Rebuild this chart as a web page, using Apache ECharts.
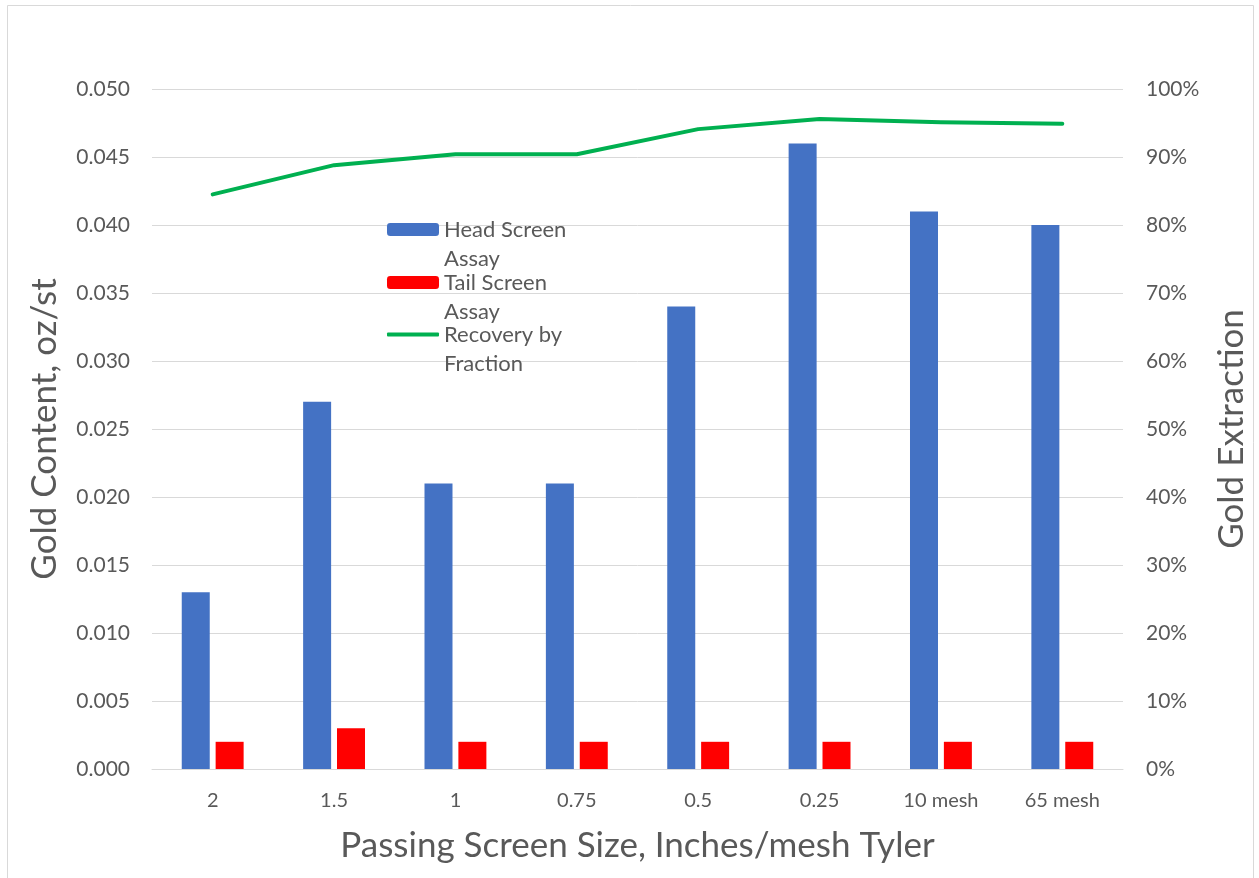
<!DOCTYPE html>
<html>
<head>
<meta charset="utf-8">
<style>
  html, body { margin: 0; padding: 0; background: #fff; }
  #chart { width: 1259px; height: 878px; }
</style>
<script src="https://cdn.jsdelivr.net/npm/echarts@6/dist/echarts.min.js"></script>
</head>
<body>
<div id="chart"></div>
<script>
// Screen fractions (passing size, inches or Tyler mesh)
const categories = ['2', '1.5', '1', '0.75', '0.5', '0.25', '10 mesh', '65 mesh'];
// Gold assays, oz/st
const headAssay = [0.013, 0.027, 0.021, 0.021, 0.034, 0.046, 0.041, 0.040];
const tailAssay = [0.002, 0.003, 0.002, 0.002, 0.002, 0.002, 0.002, 0.002];
// Recovery by fraction (share of 1)
const recovery = [0.845, 0.888, 0.904, 0.904, 0.941, 0.956, 0.951, 0.949];

const seriesNames = ['Head Screen Assay', 'Tail Screen Assay', 'Recovery by Fraction'];
const legendText = {
  'Head Screen Assay': '\nHead Screen\nAssay',
  'Tail Screen Assay': '\nTail Screen\nAssay',
  'Recovery by Fraction': '\nRecovery by\nFraction'
};

const FONT = 'Lato, "Open Sans", sans-serif';
const TEXT = '#595959';
const GRID = '#d9d9d9';
const GREEN = '#00B050';

const chart = echarts.init(document.getElementById('chart'), null, { renderer: 'canvas' });

// One legend block per series so each swatch sits on the first text line
function legendFor(name, top, extra) {
  return Object.assign({
    data: [name],
    orient: 'vertical',
    left: 387,
    top: top,
    itemWidth: 52,
    itemHeight: 13,
    itemGap: 0,
    padding: 0,
    selectedMode: false,
    formatter: n => legendText[n],
    textStyle: { color: TEXT, fontFamily: FONT, fontSize: 22, lineHeight: 29 }
  }, extra || {});
}

chart.setOption({
  animation: false,
  backgroundColor: '#fff',
  graphic: [{
    type: 'rect',
    silent: true,
    shape: { x: 7.5, y: 5.5, width: 1246, height: 900 },
    style: { fill: 'none', stroke: GRID, lineWidth: 1 }
  }],
  legend: [
    legendFor(seriesNames[0], 186),
    legendFor(seriesNames[1], 239),
    legendFor(seriesNames[2], 291, {
      data: [{ name: seriesNames[2], icon: 'roundRect' }],
      itemHeight: 4
    })
  ],
  grid: { left: 152, right: 136, top: 89, bottom: 109, containLabel: false },
  xAxis: {
    type: 'category',
    data: categories,
    axisLine: { lineStyle: { color: GRID, width: 1 } },
    axisTick: { show: false },
    axisLabel: { color: TEXT, fontFamily: FONT, fontSize: 20, margin: 22 },
    name: 'Passing Screen Size, Inches/mesh Tyler',
    nameLocation: 'middle',
    nameGap: 77,
    nameTextStyle: { color: TEXT, fontFamily: FONT, fontSize: 35, verticalAlign: 'middle' }
  },
  yAxis: [{
    type: 'value',
    min: 0,
    max: 0.05,
    interval: 0.005,
    axisLine: { show: false },
    axisTick: { show: false },
    splitLine: { lineStyle: { color: GRID, width: 1 } },
    axisLabel: { color: TEXT, fontFamily: FONT, fontSize: 21, margin: 22, formatter: v => v.toFixed(3) },
    name: 'Gold Content, oz/st',
    nameLocation: 'middle',
    nameRotate: 90,
    nameGap: 107,
    nameTextStyle: { color: TEXT, fontFamily: FONT, fontSize: 35, verticalAlign: 'middle' }
  }, {
    type: 'value',
    position: 'right',
    min: 0,
    max: 1,
    interval: 0.1,
    axisLine: { show: false },
    axisTick: { show: false },
    splitLine: { show: false },
    axisLabel: { color: TEXT, fontFamily: FONT, fontSize: 21, margin: 23, formatter: v => Math.round(v * 100) + '%' },
    name: 'Gold Extraction',
    nameLocation: 'middle',
    nameRotate: 90,
    nameGap: 109,
    nameTextStyle: { color: TEXT, fontFamily: FONT, fontSize: 35, verticalAlign: 'middle' }
  }],
  series: [{
    name: seriesNames[0],
    type: 'bar',
    data: headAssay,
    barWidth: 28,
    barGap: '21%',
    itemStyle: { color: '#4472C4' }
  }, {
    name: seriesNames[1],
    type: 'bar',
    data: tailAssay,
    barWidth: 28,
    barGap: '21%',
    itemStyle: { color: '#FF0000' }
  }, {
    name: seriesNames[2],
    type: 'line',
    yAxisIndex: 1,
    data: recovery,
    symbol: 'none',
    lineStyle: { color: GREEN, width: 4, cap: 'round', join: 'round' },
    itemStyle: { color: GREEN }
  }]
});
</script>
</body>
</html>
